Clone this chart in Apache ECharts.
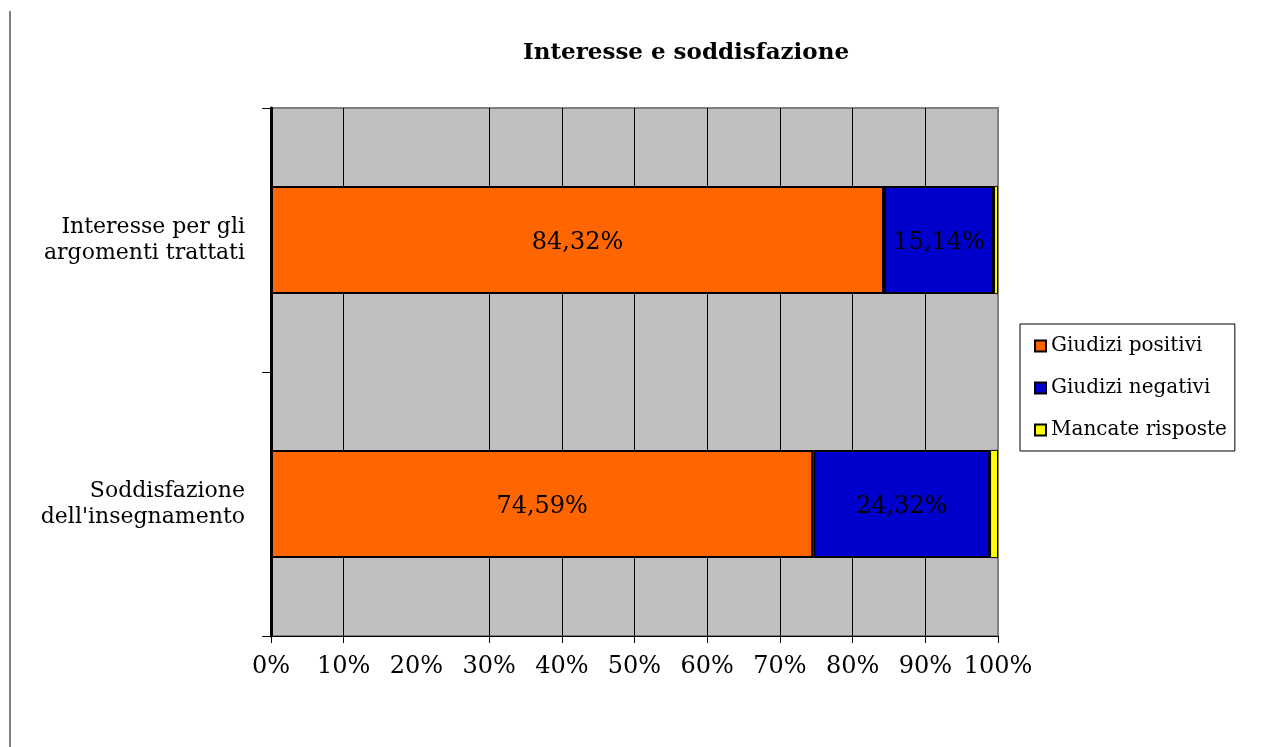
<!DOCTYPE html>
<html><head><meta charset="utf-8">
<script src="https://cdn.jsdelivr.net/npm/echarts@6/dist/echarts.min.js"></script>
<style>html,body{margin:0;padding:0;background:#fff}#c{width:1278px;height:747px}</style>
</head><body><div id="c"></div>
<script>
var categories = ["Interesse per gli\nargomenti trattati", "Soddisfazione\ndell'insegnamento"];
var seriesNames = ["Giudizi positivi", "Giudizi negativi", "Mancate risposte"];
var positivi = [84.32, 74.59];
var negativi = [15.14, 24.32];
var mancate = [0.54, 1.09];
var tickValues = [0, 10, 20, 30, 40, 50, 60, 70, 80, 90, 100];
var gridValues = [10, 30, 40, 50, 60, 70, 80, 90];
var tickMarks = [0, 10, 30, 40, 50, 60, 70, 80, 90, 100];
var colors = ["#FF6600", "#0000CC", "#FFFF00"];
var FONT = "'DejaVu Serif', 'Liberation Serif', serif";

function fmt(p) { return p.value.toFixed(2).replace('.', ',') + '%'; }

var chart = echarts.init(document.getElementById('c'));
var barBase = {
  type: 'bar', stack: 'tot', barCategoryGap: '59%', z: 3
};
chart.setOption({
  animation: false,
  backgroundColor: '#fff',
  textStyle: { fontFamily: FONT, color: '#000' },
  title: {
    text: 'Interesse e soddisfazione', left: 681, textAlign: 'center', top: 37,
    textStyle: { fontFamily: FONT, fontWeight: 'bold', fontSize: 23, color: '#000' }
  },
  legend: {
    data: seriesNames, orient: 'vertical', left: 1020, top: 324,
    padding: [12, 8, 11, 14], itemGap: 22,
    itemWidth: 11, itemHeight: 11,
    backgroundColor: '#fff', borderColor: '#000', borderWidth: 1,
    textStyle: { fontFamily: FONT, fontSize: 20, color: '#000', padding: [0, 0, 0, 0] },
    icon: 'rect'
  },
  grid: {
    left: 271, right: 280, top: 108, bottom: 111,
    show: true, backgroundColor: '#C0C0C0', borderColor: '#808080', borderWidth: 2
  },
  xAxis: {
    type: 'value', min: 0, max: 100, interval: 10,
    axisLine: { show: true, lineStyle: { color: '#000', width: 1 } },
    axisTick: { show: true, length: 7, customValues: tickMarks, lineStyle: { color: '#000' } },
    splitLine: { show: false },
    axisLabel: {
      customValues: tickValues, margin: 19, fontSize: 24, color: '#000', fontFamily: FONT,
      formatter: function (v) { return v + '%'; }
    }
  },
  yAxis: {
    type: 'category', data: categories, inverse: true,
    axisLine: { show: true, lineStyle: { color: '#000', width: 3 } },
    axisTick: { show: true, length: 9, lineStyle: { color: '#000' } },
    axisLabel: { margin: 26, fontSize: 22, lineHeight: 26, color: '#000', fontFamily: FONT, align: 'right', padding: [8, 0, 0, 0] }
  },
  graphic: [{
    type: 'line', shape: { x1: 10, y1: 11, x2: 10, y2: 747 },
    style: { stroke: '#000', lineWidth: 1 }
  }],
  series: [
    Object.assign({}, barBase, {
      name: seriesNames[0], data: positivi, itemStyle: { color: colors[0], borderColor: '#000', borderWidth: 2 },
      label: { show: true, position: 'inside', formatter: fmt, fontSize: 24, color: '#000', fontFamily: FONT, offset: [0, 3] }
    }),
    Object.assign({}, barBase, {
      name: seriesNames[1], data: negativi, itemStyle: { color: colors[1], borderColor: '#000', borderWidth: 2 },
      label: { show: true, position: 'inside', formatter: fmt, fontSize: 24, color: '#000', fontFamily: FONT, offset: [0, 3] }
    }),
    Object.assign({}, barBase, {
      name: seriesNames[2], data: mancate, itemStyle: { color: colors[2], borderColor: '#000', borderWidth: 1 },
      label: { show: false }
    }),
    {
      type: 'line', name: 'grid', data: [], z: 1, silent: true,
      markLine: {
        silent: true, symbol: 'none', z: 1, animation: false,
        label: { show: false },
        lineStyle: { color: '#000', width: 1, type: 'solid' },
        data: gridValues.map(function (v) { return { xAxis: v }; })
      }
    }
  ]
});
</script></body></html>
